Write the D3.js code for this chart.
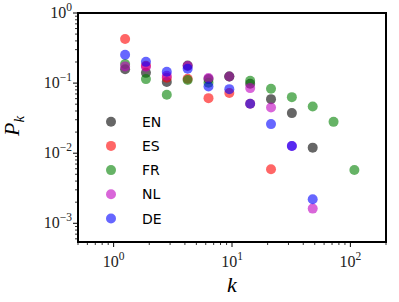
<!DOCTYPE html>
<html><head><meta charset="utf-8">
<script src="https://cdn.jsdelivr.net/npm/d3@7"></script>
<style>body{margin:0;background:#fff}svg{display:block}</style>
</head><body>
<svg id="c" width="399" height="302"></svg>
<script>
const kValues = [1.25, 1.875, 2.8125, 4.22, 6.33, 9.49, 14.24, 21.36, 32.04, 48.06, 72.1, 108.1];
const seriesNames = ["EN", "ES", "FR", "NL", "DE"];
const seriesColors = ["#000000", "#ff0000", "#008000", "#bf00bf", "#0000ff"];
const EN = [0.158, 0.140, 0.104, 0.178, 0.114, 0.124, 0.098, 0.059, 0.0373, 0.0120];
const ES = [0.425, 0.177, 0.119, 0.115, 0.061, 0.0722, 0.0506, 0.0059];
const FR = [0.187, 0.114, 0.068, 0.111, 0.101, 0.124, 0.108, 0.083, 0.063, 0.0463, 0.028, 0.00577];
const NL = [0.173, 0.171, 0.127, 0.175, 0.118, 0.124, 0.0848, 0.0448, 0.0127, 0.00162];
const DE = [0.254, 0.201, 0.145, 0.160, 0.0894, 0.082, 0.0506, 0.026, 0.0127, 0.0022];
const seriesValues = [EN, ES, FR, NL, DE];
const xTickValues = [1, 10, 100];
const yTickValues = [1, 0.1, 0.01, 0.001];
const xTickExp = ["0", "1", "2"];
const yTickExp = ["0", "\u22121", "\u22122", "\u22123"];

const svg = d3.select("#c");
const L = 78, T = 13, R = 386, B = 242;
const x = d3.scaleLog().domain([0.5, 200]).range([L, R]);
const y = d3.scaleLog().domain([10 ** -3.267, 1]).range([B, T]);

const xMinor = [];
[0.1, 1, 10, 100].forEach(d => { for (let m = 2; m <= 9; m++) { const v = d * m; if (v >= 0.5 && v <= 200 && !xTickValues.includes(v)) xMinor.push(v); } });
const yMinor = [];
[0.0001, 0.001, 0.01, 0.1].forEach(d => { for (let m = 2; m <= 9; m++) { const v = d * m; if (v >= 10 ** -3.267 && v < 1) yMinor.push(v); } });

const g = svg.append("g");
g.selectAll(".xm").data(xMinor).join("line").attr("x1", d => x(d)).attr("x2", d => x(d)).attr("y1", B).attr("y2", B + 3).attr("stroke", "#000").attr("stroke-width", 0.8);
g.selectAll(".xM").data(xTickValues).join("line").attr("x1", d => x(d)).attr("x2", d => x(d)).attr("y1", B).attr("y2", B + 5).attr("stroke", "#000").attr("stroke-width", 1);
g.selectAll(".ym").data(yMinor).join("line").attr("y1", d => y(d)).attr("y2", d => y(d)).attr("x1", L).attr("x2", L - 3).attr("stroke", "#000").attr("stroke-width", 0.8);
g.selectAll(".yM").data(yTickValues).join("line").attr("y1", d => y(d)).attr("y2", d => y(d)).attr("x1", L).attr("x2", L - 5).attr("stroke", "#000").attr("stroke-width", 1);

const font = "'Liberation Serif', 'DejaVu Serif', serif";
xTickValues.forEach((v, i) => {
  const t = svg.append("text").attr("x", x(v)).attr("y", B + 25).attr("text-anchor", "middle")
    .attr("font-family", font).attr("font-size", 16).attr("fill", "#222");
  t.append("tspan").text("10");
  t.append("tspan").attr("dy", -7).attr("font-size", 11.5).text(xTickExp[i]);
});
yTickValues.forEach((v, i) => {
  const t = svg.append("text").attr("x", L - 6).attr("y", y(v) + 5).attr("text-anchor", "end")
    .attr("font-family", font).attr("font-size", 16).attr("fill", "#222");
  t.append("tspan").text("10");
  t.append("tspan").attr("dy", -7).attr("font-size", 11.5).text(yTickExp[i]);
});

svg.append("text").attr("x", 232).attr("y", 292).attr("text-anchor", "middle")
  .attr("font-family", font).attr("font-style", "italic").attr("font-size", 22).text("k");
const yl = svg.append("text").attr("transform", "translate(19,126) rotate(-90)").attr("text-anchor", "middle")
  .attr("font-family", font).attr("font-style", "italic").attr("font-size", 22);
yl.append("tspan").text("P");
yl.append("tspan").attr("dy", 5).attr("font-size", 15).text("k");

seriesValues.forEach((vals, si) => {
  svg.append("g").selectAll("circle").data(vals).join("circle")
    .attr("cx", (d, i) => x(kValues[i])).attr("cy", d => y(d)).attr("r", 5)
    .attr("fill", seriesColors[si]).attr("fill-opacity", 0.6);
});

seriesNames.forEach((n, i) => {
  const yy = 121.7 + i * 24.2;
  svg.append("circle").attr("cx", 111).attr("cy", yy).attr("r", 5).attr("fill", seriesColors[i]).attr("fill-opacity", 0.6);
  svg.append("text").attr("x", 142).attr("y", yy + 5).attr("font-family", "'DejaVu Sans', sans-serif").attr("font-size", 14).text(n);
});

svg.append("rect").attr("x", L).attr("y", T).attr("width", R - L).attr("height", B - T)
  .attr("fill", "none").attr("stroke", "#000").attr("stroke-width", 2);
</script>
</body></html>
